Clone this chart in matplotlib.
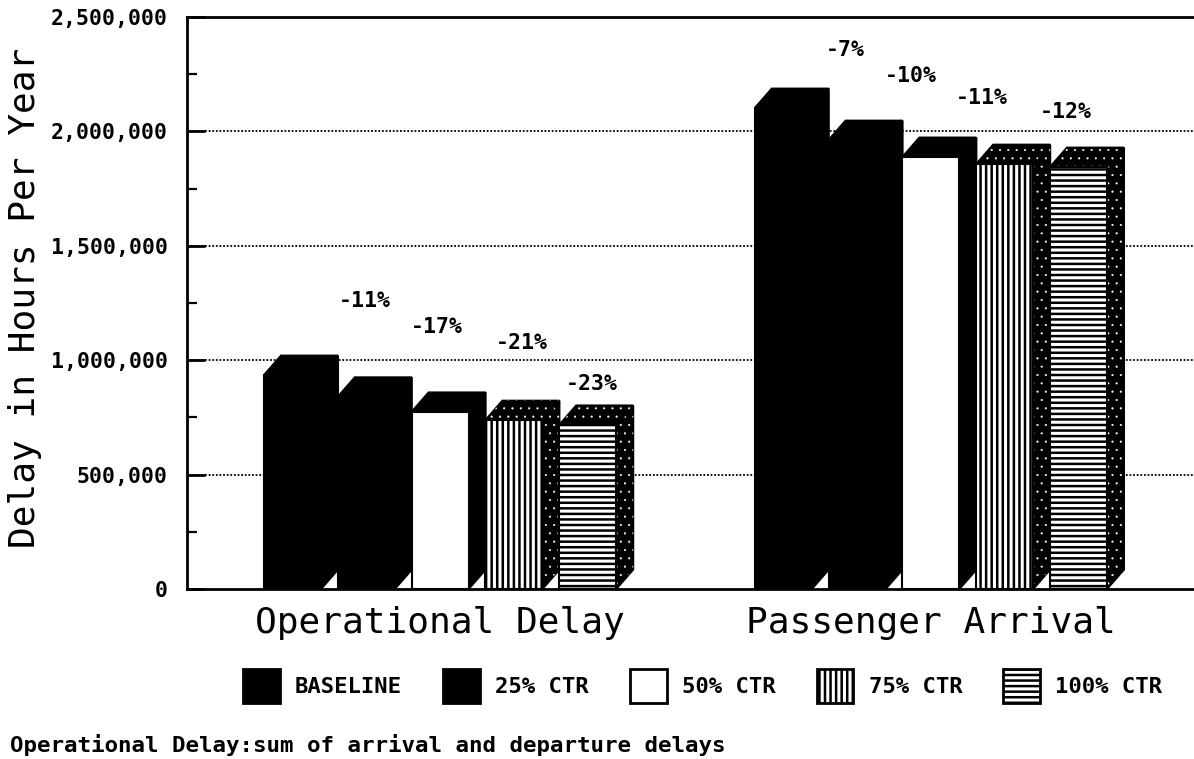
import matplotlib
matplotlib.use("Agg")
import matplotlib.pyplot as plt
from matplotlib.patches import Polygon, Patch

groups = ["Operational Delay", "Passenger Arrival"]
scenarios = ["BASELINE", "25% CTR", "50% CTR", "75% CTR", "100% CTR"]
operational = [935000, 840000, 774000, 738000, 717000]
passenger = [2102000, 1962000, 1888000, 1857000, 1844000]
op_labels = ["-11%", "-17%", "-21%", "-23%"]
pa_labels = ["-7%", "-10%", "-11%", "-12%"]
y_ticks = [0, 500000, 1000000, 1500000, 2000000, 2500000]
y_minor = [250000, 750000, 1250000, 1750000, 2250000]

W, H = 1194, 759
FONT = "DejaVu Sans Mono"
plt.rcParams["hatch.linewidth"] = 1.8
fig = plt.figure(figsize=(W / 100, H / 100), dpi=100)
ax = fig.add_axes([187 / W, (H - 589) / H, (W - 187) / W, (589 - 17) / H])

SPACING = 73.8
BAR_W = 57 / SPACING
DX = 17 / SPACING
DY = 85000
GROUP_GAP = 6.65
ax.set_xlim((187 - 264) / SPACING, (W - 264) / SPACING)
ax.set_ylim(0, 2500000)

front_style = [
    dict(fc="black"), dict(fc="black"), dict(fc="white"),
    dict(fc="white", hatch="|||"), dict(fc="white", hatch="---"),
]
dotted = [False, False, False, True, True]


def face(pts, fc="black", hatch=None, ec="black"):
    ax.add_patch(Polygon(pts, closed=True, fc=fc, ec=ec, lw=1.5, zorder=2))
    if hatch:
        c = "white" if fc == "black" else "black"
        hlw = 0.3 if fc == "black" else 1.8
        with plt.rc_context({"hatch.linewidth": hlw}):
            ax.add_patch(Polygon(pts, closed=True, fc="none", ec=c, lw=0, hatch=hatch, zorder=2))


for g, values in enumerate([operational, passenger]):
    for i, v in enumerate(values):
        x0 = g * GROUP_GAP + i
        x1 = x0 + BAR_W
        h = ".." if dotted[i] else None
        face([(x1, 0), (x1 + DX, DY), (x1 + DX, v + DY), (x1, v)], hatch=h)
        face([(x0, v), (x0 + DX, v + DY), (x1 + DX, v + DY), (x1, v)], hatch=h)
        face([(x0, 0), (x0, v), (x1, v), (x1, 0)], **front_style[i])

ax.hlines(y_ticks[1:-1], *ax.get_xlim(), color="black", lw=1.3, ls=(0, (1, 1)), zorder=1)

ax.set_yticks(y_ticks)
ax.set_yticklabels([f"{t:,}" for t in y_ticks], family=FONT, fontweight="bold", fontsize=15.5)
ax.set_yticks(y_minor, minor=True)
ax.tick_params(axis="y", which="major", direction="in", length=13, width=2, pad=14)
ax.tick_params(axis="y", which="minor", direction="in", length=7.5, width=1.6)
ax.set_xticks([g * GROUP_GAP + 2 + BAR_W / 2 for g in range(2)])
ax.set_xticklabels(groups, family=FONT, fontsize=26)
ax.tick_params(axis="x", direction="in", length=12, width=2, pad=12)
for lab in ax.get_yticklabels():
    lab.set_verticalalignment("center_baseline")

ax.spines["right"].set_visible(False)
for s in ["left", "top", "bottom"]:
    ax.spines[s].set_linewidth(2)


def px_text(x, y, s, **kw):
    fig.text(x / W, 1 - y / H, s, family=FONT, ha="center", va="center", **kw)


px_text(25, 298, "Delay in Hours Per Year", rotation=90, fontsize=26)

for s, (x, y) in zip(op_labels, [(365, 301), (437, 327), (522, 343), (592, 384)]):
    px_text(x, y, s, fontsize=15.5, fontweight="bold")
for s, (x, y) in zip(pa_labels, [(845, 50), (911, 76), (982, 98), (1066, 112)]):
    px_text(x, y, s, fontsize=15.5, fontweight="bold")

handles = [
    Patch(fc=st["fc"], ec="black", lw=2, hatch=st.get("hatch"), label=n)
    for st, n in zip(front_style, scenarios)
]
ax.legend(
    handles=handles, ncol=5, frameon=False, loc="center left",
    bbox_to_anchor=(243 / W, 1 - 686 / H), bbox_transform=fig.transFigure,
    prop=dict(family=FONT, weight="bold", size=16),
    handlelength=1.66, handleheight=1.95, handletextpad=0.68,
    columnspacing=1.85, borderpad=0, borderaxespad=0,
)

fig.text(10 / W, 1 - 745 / H, "Operational Delay:sum of arrival and departure delays",
         family=FONT, fontweight="bold", fontsize=16.2, ha="left", va="center")

fig.savefig("out.png", dpi=100)
